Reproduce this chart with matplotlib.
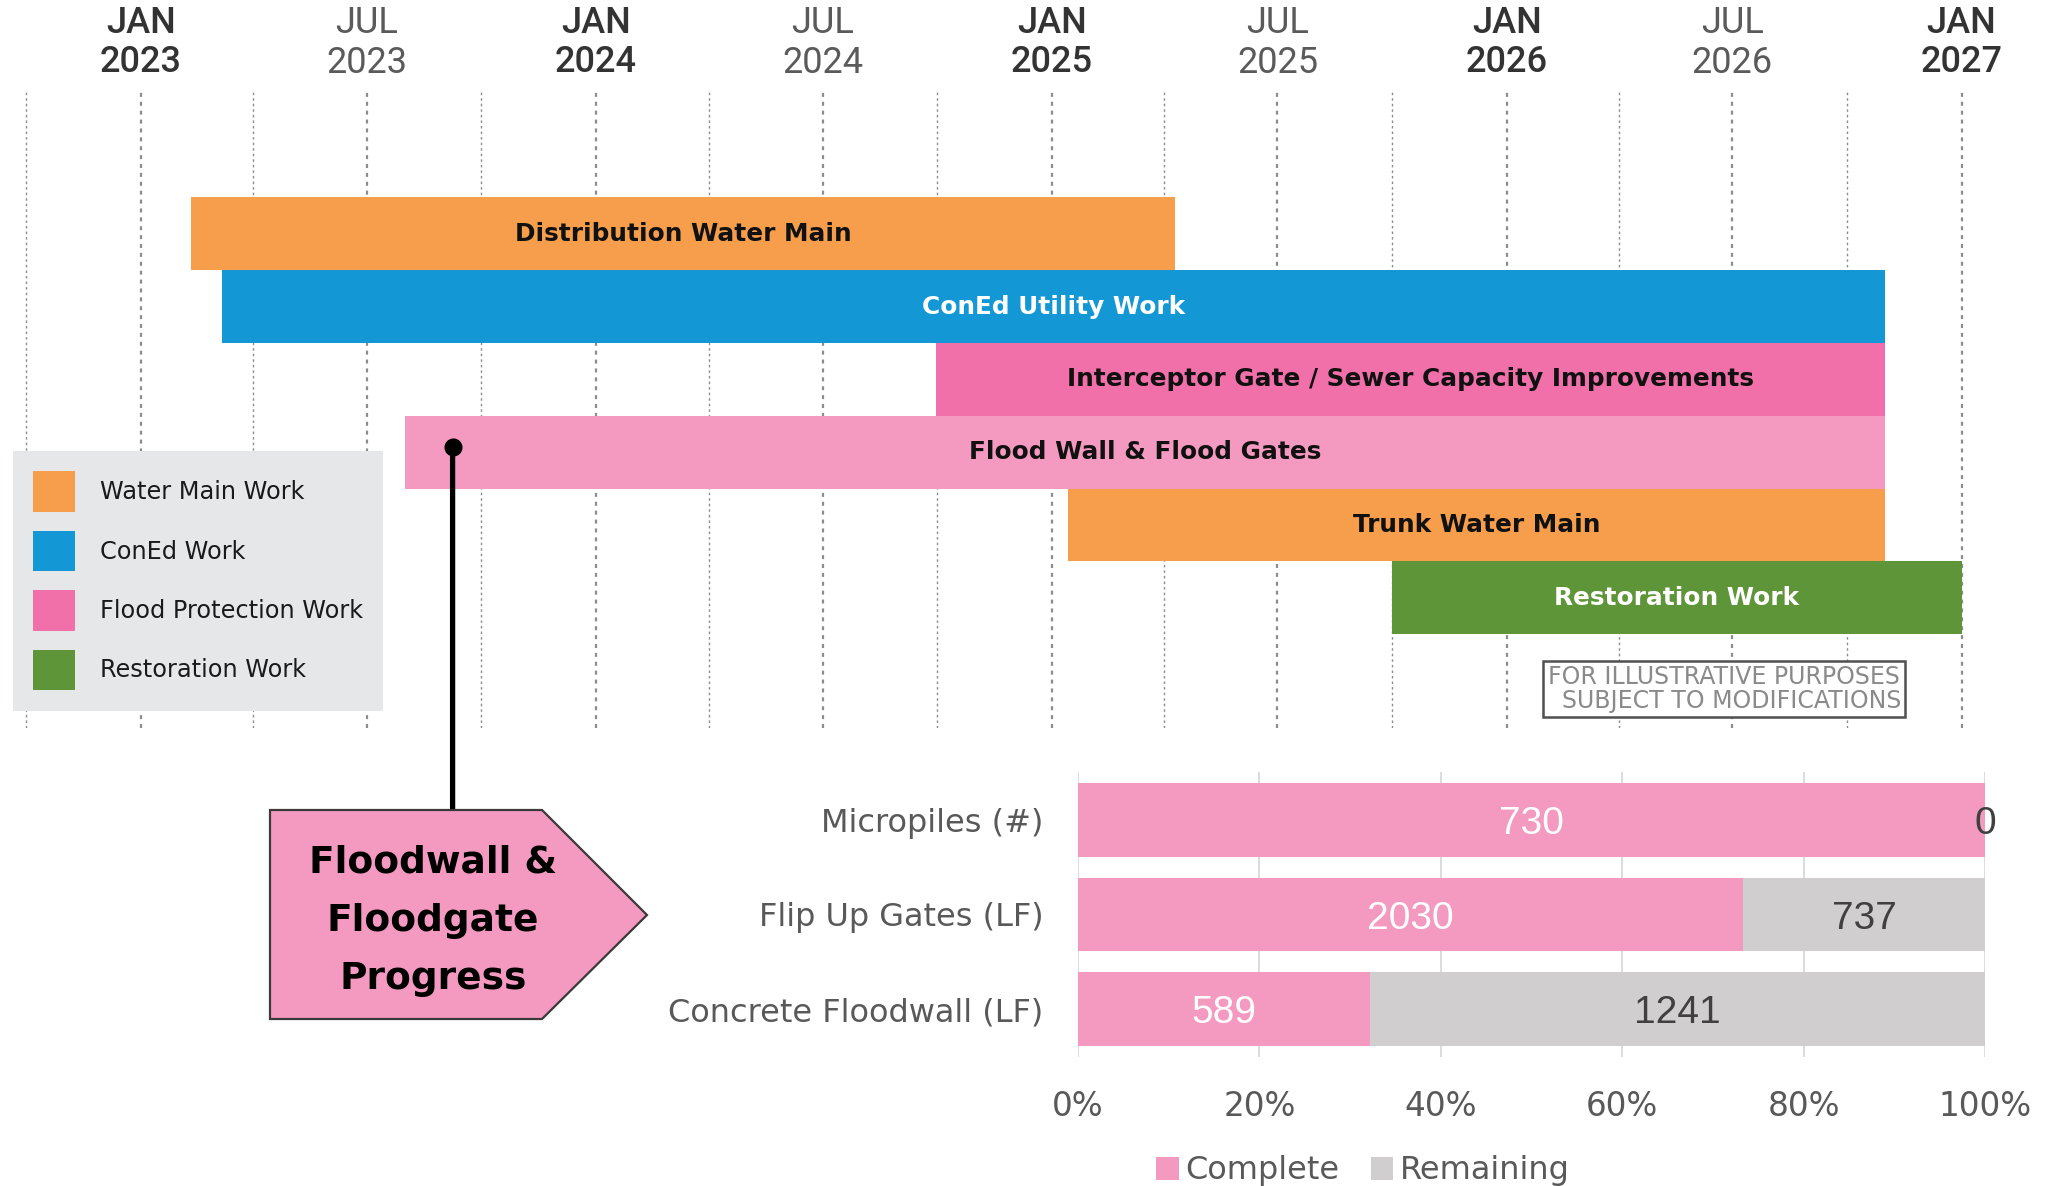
import matplotlib
matplotlib.use("Agg")
import matplotlib.pyplot as plt
import matplotlib.dates as mdates
import numpy as np
import pandas as pd
from matplotlib.patches import Patch, Polygon, ConnectionPatch
from matplotlib.transforms import blended_transform_factory

plt.rcParams["font.family"] = ["DejaVu Sans"]

# --- schedule data ---
tasks = [
    "Distribution Water Main",
    "ConEd Utility Work",
    "Interceptor Gate / Sewer Capacity Improvements",
    "Flood Wall & Flood Gates",
    "Trunk Water Main",
    "Restoration Work",
]
starts = ["2023-02-10", "2023-03-07", "2024-09-30", "2023-08-01", "2025-01-14", "2025-10-01"]
ends = ["2025-04-10", "2026-11-01", "2026-11-01", "2026-11-01", "2026-11-01", "2027-01-01"]
bar_colors = ["#F79E4C", "#1397D5", "#F170A9", "#F49AC1", "#F79E4C", "#5E9538"]
text_colors = ["#111111", "white", "#111111", "#111111", "#111111", "white"]
milestone = "2023-09-08"

legend_labels = ["Water Main Work", "ConEd Work", "Flood Protection Work", "Restoration Work"]
legend_colors = ["#F79E4C", "#1397D5", "#F170A9", "#5E9538"]

# --- progress data ---
items = ["Micropiles (#)", "Flip Up Gates (LF)", "Concrete Floodwall (LF)"]
complete = np.array([730, 2030, 589])
remaining = np.array([0, 737, 1241])

W, H = 2049, 1186
fig = plt.figure(figsize=(W / 100, H / 100), dpi=100)

# ---------------- Gantt ----------------
ax = fig.add_axes([0, 1 - 728 / H, 1, (728 - 89) / H])
d0 = mdates.datestr2num("2023-01-01")
ppd = 1.246  # pixels per day
ax.set_xlim(d0 - 141.1 / ppd, d0 + (W - 141.1) / ppd)
ax.set_ylim(6.79, -1.99)
ax.set_axis_off()

quarters = pd.date_range("2022-10-01", "2027-01-01", freq="QS")
for q in quarters:
    major = q.month in (1, 7)
    ax.axvline(mdates.date2num(q), color="#8c8c8c", lw=1.6 if major else 1.0,
               ls=(0, (1.8, 2.2)), zorder=0)

s = mdates.datestr2num(starts)
e = mdates.datestr2num(ends)
ax.barh(np.arange(len(tasks)), e - s, left=s, height=1.0, color=bar_colors, lw=0, zorder=2)
for i, t in enumerate(tasks):
    ax.text((s[i] + e[i]) / 2, i, t, ha="center", va="center", fontsize=17.8,
            fontweight="bold", color=text_colors[i], zorder=3)

# month labels
tr = blended_transform_factory(ax.transData, fig.transFigure)
for q in quarters:
    if q.month not in (1, 7):
        continue
    jan = q.month == 1
    ax.text(mdates.date2num(q), 1 - 43 / H, q.strftime("%b").upper() + "\n" + str(q.year),
            transform=tr, ha="center", va="center", fontsize=26, linespacing=1.15,
            family=["Roboto", "DejaVu Sans"], fontweight="medium" if jan else "normal",
            color="#333333" if jan else "#5a5a5a")

handles = [Patch(facecolor=c, edgecolor="none") for c in legend_colors]
leg = ax.legend(handles, legend_labels, loc="upper left",
                bbox_to_anchor=(13 / W, 1 - 451 / H), bbox_transform=fig.transFigure,
                borderaxespad=0, fontsize=17.3, frameon=True, fancybox=False,
                facecolor="#E6E7E8", edgecolor="none", framealpha=1,
                handlelength=1.75, handleheight=2.2, handletextpad=1.0,
                labelspacing=0.8, borderpad=0.85)
for txt in leg.get_texts():
    txt.set_color("#1a1a1a")

ax.plot(mdates.datestr2num(milestone), 2.93, "o", color="black", ms=12, zorder=5)

# ---------------- overlay ----------------
ov = fig.add_axes([0, 0, 1, 1], zorder=5)
ov.set_xlim(0, W)
ov.set_ylim(H, 0)
ov.set_axis_off()

ov.text(1724, 689, "FOR ILLUSTRATIVE PURPOSES\n  SUBJECT TO MODIFICATIONS", ha="center",
        va="center", fontsize=17, color="#8a8a8a", linespacing=1.02,
        bbox=dict(boxstyle="square,pad=0.15", fc="white", ec="#505050", lw=1.8))

con = ConnectionPatch(xyA=(mdates.datestr2num(milestone), 2.93), coordsA=ax.transData,
                      xyB=(mdates.datestr2num(milestone), 810),
                      coordsB=blended_transform_factory(ax.transData, ov.transData),
                      color="black", lw=3.8, zorder=4)
fig.add_artist(con)

pent = Polygon([(270, 810), (542, 810), (647, 915), (542, 1019), (270, 1019)],
               closed=True, fc="#F49AC1", ec="#3a3a3a", lw=1.6)
ov.add_patch(pent)
ov.text(433, 921, "Floodwall &\nFloodgate\nProgress", ha="center", va="center",
        fontsize=27, fontweight="bold", color="black", linespacing=1.8)

# ---------------- progress bars ----------------
bx = fig.add_axes([1078 / W, 1 - 1056.7 / H, 907 / W, 285 / H])
total = complete + remaining
pc = complete / total
pr = remaining / total
y = np.arange(len(items))
c1 = bx.barh(y, pc, height=0.776, color="#F49AC1", lw=0)
c2 = bx.barh(y, pr, left=pc, height=0.776, color="#D0CECE", lw=0)
lab1 = bx.bar_label(c1, labels=[str(v) for v in complete], label_type="center", color="white",
                    fontsize=28, family=["Liberation Sans", "DejaVu Sans"])
lab2 = bx.bar_label(c2, labels=[str(v) for v in remaining], label_type="center", color="#404040",
                    fontsize=28, family=["Liberation Sans", "DejaVu Sans"])
for a in lab1 + lab2:
    a.xyann = (0, -3)
bx.set_xlim(0, 1)
bx.set_ylim(2.504, -0.51)
bx.set_xticks(np.linspace(0, 1, 6))
bx.set_xticklabels([f"{int(v * 100)}%" for v in np.linspace(0, 1, 6)])
bx.set_yticks(y)
bx.set_yticklabels(items)
bx.grid(axis="x", color="#D9D9D9", lw=1.3)
bx.set_axisbelow(True)
for sp in bx.spines.values():
    sp.set_visible(False)
bx.tick_params(axis="x", length=0, pad=24, labelsize=23.5, labelcolor="#595959")
bx.tick_params(axis="y", length=0, pad=25, labelsize=23, labelcolor="#595959")

fig.legend([Patch(facecolor="#F49AC1"), Patch(facecolor="#D0CECE")], ["Complete", "Remaining"],
           loc="center", bbox_to_anchor=(1363 / W, 1 - 1171 / H), ncol=2, frameon=False,
           fontsize=23, handlelength=0.7, handleheight=0.7, handletextpad=0.2,
           columnspacing=1.0, labelcolor="#595959")

fig.savefig("out.png", dpi=100)
